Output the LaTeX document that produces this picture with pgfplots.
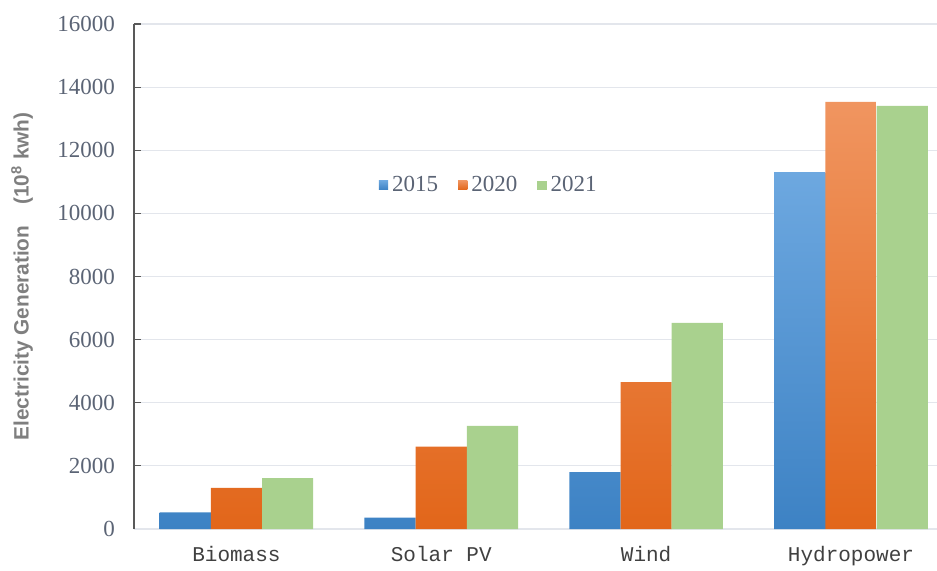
\documentclass[border=0pt]{standalone}
\usepackage{fontspec}
\setmainfont{Liberation Serif}
\newfontfamily\monof{Liberation Mono}
\newfontfamily\sansf{Liberation Sans}
\usepackage{pgfplots}
\pgfplotsset{compat=1.18}
\definecolor{bluetop}{HTML}{6DA8E0}
\definecolor{bluebot}{HTML}{3D82C4}
\definecolor{bluelg}{HTML}{4A8FD4}
\definecolor{orangetop}{HTML}{F09560}
\definecolor{orangebot}{HTML}{E2661A}
\definecolor{orangelg}{HTML}{EE7424}
\definecolor{greenbar}{HTML}{A9D18E}
\definecolor{ticktext}{HTML}{5B6475}
\definecolor{gridgray}{HTML}{E3E6EC}
\definecolor{axisgray}{HTML}{595959}
\definecolor{labgray}{HTML}{7F7F7F}
\definecolor{cattext}{HTML}{404040}
\begin{document}
\begin{tikzpicture}
\begin{axis}[
  scale only axis,
  width=401.5pt, height=252.5pt,
  xmin=-0.5, xmax=3.42,
  ymin=0, ymax=16000,
  ytick={0,2000,...,16000},
  scaled y ticks=false,
  yticklabel={\pgfmathprintnumber[fixed,precision=0,1000 sep={}]{\tick}},
  xtick={0,1,2,3},
  xticklabels={Biomass,Solar PV,Wind,Hydropower},
  axis x line*=bottom, axis y line*=left,
  x axis line style={draw=gridgray, line width=0.6pt},
  y axis line style={draw=axisgray, line width=0.6pt},
  ymajorgrids,
  major grid style={draw=gridgray, line width=0.6pt},
  ytick style={draw=axisgray, line width=0.6pt},
  xtick style={draw=none},
  tick align=inside,
  major tick length=3.5pt,
  /pgf/number format/assume math mode=true,
  yticklabel style={font=\fontsize{11.5}{13}\selectfont, text=ticktext, xshift=-6pt},
  xticklabel style={font=\monof\fontsize{10.5}{12}\selectfont, text=cattext, yshift=-5pt},
  ylabel={Electricity Generation\quad(10\textsuperscript{8} kwh)},
  ylabel style={font=\sansf\bfseries\fontsize{10.4}{12}\selectfont, text=labgray, at={(axis description cs:-0.1395,0.5)}, anchor=center},
  legend style={at={(rel axis cs:0.443,0.681)}, anchor=center, draw=none, fill=none,
    font=\fontsize{11.5}{13}\selectfont, text=ticktext, legend columns=-1,
    /tikz/every even column/.append style={column sep=8pt}},
  legend cell align=left,
]
\addplot[ybar, bar width=25.6pt, bar shift=-25.6pt, draw=none, shade, top color=bluetop, bottom color=bluebot,
  legend image code/.code={\fill[bluelg] (0pt,-2.3pt) rectangle (4.6pt,2.3pt);}]
  coordinates {(0,526) (1,360) (2,1806) (3,11310)};
\addlegendentry{2015}
\addplot[ybar, bar width=25.6pt, bar shift=0pt, draw=none, shade, top color=orangetop, bottom color=orangebot,
  legend image code/.code={\fill[orangelg] (0pt,-2.3pt) rectangle (4.6pt,2.3pt);}]
  coordinates {(0,1300) (1,2607) (2,4650) (3,13530)};
\addlegendentry{2020}
\addplot[ybar, bar width=25.6pt, bar shift=25.6pt, draw=none, fill=greenbar,
  legend image code/.code={\fill[greenbar] (0pt,-2.3pt) rectangle (4.6pt,2.3pt);}]
  coordinates {(0,1610) (1,3265) (2,6530) (3,13410)};
\addlegendentry{2021}
\end{axis}
\pgfresetboundingbox
\path[use as bounding box] ([shift={(-67pt,-20.5pt)}]current axis.south west) rectangle ([shift={(0pt,12pt)}]current axis.north east);
\end{tikzpicture}
\end{document}
